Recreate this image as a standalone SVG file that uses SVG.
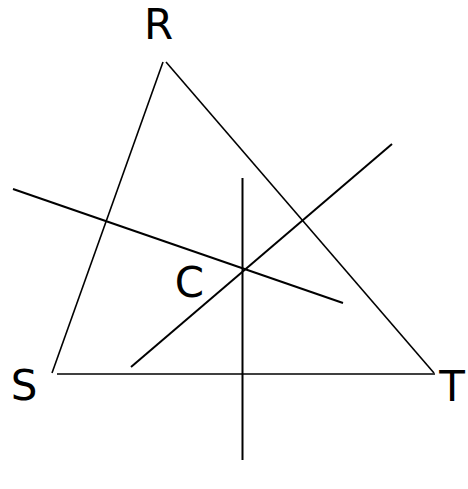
<svg xmlns="http://www.w3.org/2000/svg" width="468" height="489" viewBox="0 0 468 489">
<style>
.tri{stroke:#000;stroke-width:1.6;fill:none}
.ln{stroke:#000;stroke-width:2;fill:none}
.lb{font-family:"DejaVu Sans",sans-serif;font-size:42px;fill:#000;text-anchor:middle}
</style>
<rect width="468" height="489" fill="#fff"/>
<g id="connectors">
<line class="tri" x1="163" y1="62" x2="52" y2="373"/>
<line class="tri" x1="166" y1="62" x2="434" y2="373"/>
<line class="tri" x1="57" y1="374" x2="435" y2="374"/>
<line class="ln" x1="242.5" y1="178" x2="242.5" y2="460"/>
<line class="ln" x1="13" y1="189" x2="343" y2="303"/>
<line class="ln" x1="131" y1="367" x2="392" y2="144"/>
</g>
<g id="R"><text class="lb" x="158.5" y="39">R</text></g>
<g id="S"><text class="lb" x="24" y="400">S</text></g>
<g id="T"><text class="lb" x="452" y="401">T</text></g>
<g id="C"><text class="lb" x="189.5" y="297">C</text></g>
</svg>
